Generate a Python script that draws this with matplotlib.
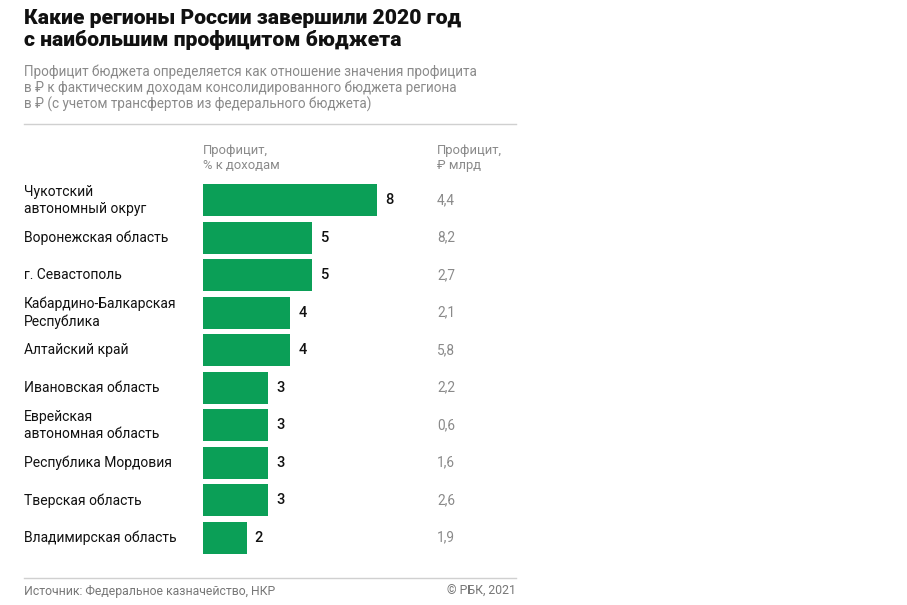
import matplotlib.pyplot as plt
from matplotlib.transforms import blended_transform_factory

regions = [
    'Чукотский\nавтономный округ',
    'Воронежская область',
    'г. Севастополь',
    'Кабардино-Балкарская\nРеспублика',
    'Алтайский край',
    'Ивановская область',
    'Еврейская\nавтономная область',
    'Республика Мордовия',
    'Тверская область',
    'Владимирская область',
]
surplus_pct = [8, 5, 5, 4, 4, 3, 3, 3, 3, 2]
surplus_bln = ['4,4', '8,2', '2,7', '2,1', '5,8', '2,2', '0,6', '1,6', '2,6', '1,9']

W, H = 907, 605
GREEN = '#0b9f57'
GRAY = '#8a8a8a'
FONT = ['Roboto', 'DejaVu Sans']

plt.rcParams['font.family'] = FONT


def fx(px):
    return px / W


def fy(py):
    return 1 - py / H


fig = plt.figure(figsize=(W / 100, H / 100), dpi=100)
fig.patch.set_facecolor('white')

# title and subtitle
fig.text(fx(24), fy(18), 'Какие регионы России завершили 2020 год',
         fontsize=15.2, fontweight='heavy', va='center', ha='left', color='#111111')
fig.text(fx(24), fy(40), 'с наибольшим профицитом бюджета',
         fontsize=15.2, fontweight='heavy', va='center', ha='left', color='#111111')
subtitle = ['Профицит бюджета определяется как отношение значения профицита',
            'в ₽ к фактическим доходам консолидированного бюджета региона',
            'в ₽ (с учетом трансфертов из федерального бюджета)']
for i, line in enumerate(subtitle):
    fig.text(fx(24), fy(72 + 16 * i), line, fontsize=9.75, color=GRAY,
             va='center', ha='left')

fig.add_artist(plt.Line2D([fx(24), fx(516)], [fy(124), fy(124)],
                          color='#d0d0d0', lw=1))

# column headers
fig.text(fx(203), fy(158), 'Профицит,\n% к доходам', fontsize=9.4, color=GRAY,
         va='center', ha='left', linespacing=1.25)
fig.text(fx(437), fy(158), 'Профицит,\n₽ млрд', fontsize=9.4, color=GRAY,
         va='center', ha='left', linespacing=1.25)

# bars
unit = 21.75
ax = fig.add_axes([fx(203), fy(556.5), unit * 10 / W, 375 / H])
y = list(range(len(regions)))
ax.barh(y, surplus_pct, height=0.85, color=GREEN)
ax.set_xlim(0, 10)
ax.set_ylim(len(regions) - 0.5, -0.5)
ax.axis('off')

for yi, v in zip(y, surplus_pct):
    ax.annotate(str(v), (v, yi), xytext=(6, 0), textcoords='offset points',
                va='center', ha='left', fontsize=10.5, fontweight='medium',
                color='#111111')

tr = blended_transform_factory(fig.transFigure, ax.transData)
for yi, name, b in zip(y, regions, surplus_bln):
    fig.text(fx(24), yi, name, transform=tr, fontsize=10, va='center',
             ha='left', color='#111111', linespacing=1.25)
    fig.text(fx(437), yi, b, transform=tr, fontsize=9.8, va='center',
             ha='left', color=GRAY)

# footer
fig.add_artist(plt.Line2D([fx(24), fx(516)], [fy(578), fy(578)],
                          color='#d0d0d0', lw=1))
fig.text(fx(24), fy(591), 'Источник: Федеральное казначейство, НКР',
         fontsize=8.8, color='#777777', va='center', ha='left')
fig.text(fx(516), fy(591), '© РБК, 2021', fontsize=8.8, color='#777777',
         va='center', ha='right')

fig.savefig('out.png', dpi=100, facecolor='white')
